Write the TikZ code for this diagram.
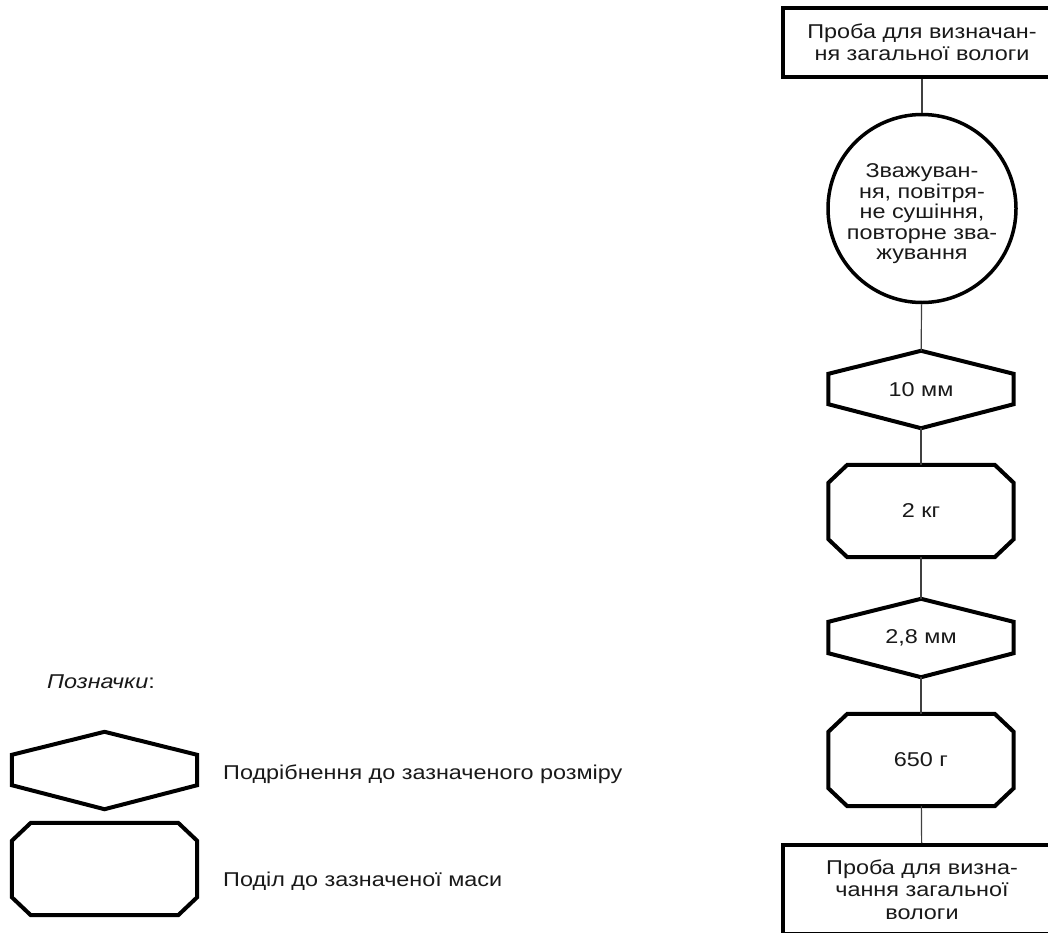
\documentclass[tikz,border=0pt]{standalone}
\usepackage{fontspec}
\setmainfont{Liberation Sans}[FakeStretch=1.17]
\usetikzlibrary{calc}
\tikzset{
  outline/.style={line width=4pt, line join=miter, draw=black},
  conn/.style={line width=1.2pt, draw=black!75},
  txt/.style={font=\fontsize{20}{22.5}\selectfont, align=center, inner sep=0pt, text=black!90},
  boxnode/.style={txt, draw=black, line width=4pt, rectangle, minimum width=278, minimum height=#1},
  shapebox/.style={txt, rectangle, minimum width=185},
  legtext/.style={font=\fontsize{20}{22.5}\selectfont, inner sep=0pt, anchor=base west, text=black!90},
}
\newcommand\hexpath[1]{%
  \draw[outline] (#1.north) -- ([yshift=-23]#1.north east) -- ([yshift=24]#1.south east)
    -- (#1.south) -- ([yshift=24]#1.south west) -- ([yshift=-23]#1.north west) -- cycle;}
\newcommand\octpath[1]{%
  \draw[outline] ([xshift=19]#1.north west) -- ([xshift=-19]#1.north east)
    -- ([yshift=-18]#1.north east) -- ([yshift=18]#1.south east)
    -- ([xshift=-19]#1.south east) -- ([xshift=19]#1.south west)
    -- ([yshift=18]#1.south west) -- ([yshift=-18]#1.north west) -- cycle;}
\begin{document}
\begin{tikzpicture}[x=1pt, y=-1pt]
\useasboundingbox (0,0) rectangle (1048,932);
% main column
\node[boxnode=69] (top) at (922,42.5) {Проба для визначан-\\ня загальної вологи};
\node[txt, draw=black, line width=3.5pt, circle, minimum size=188, font=\fontsize{20}{20.5}\selectfont] (c) at (922,208.5)
  {\rule{0pt}{25pt}Зважуван-\\ня, повітря-\\не сушіння,\\повторне зва-\\жування};
\node[shapebox, minimum height=77] (h1) at (921,389.5) {10 мм};
\node[shapebox, minimum height=92] (o1) at (921,511) {2 кг};
\node[shapebox, minimum height=78] (h2) at (921,638) {2,8 мм};
\node[shapebox, minimum height=92] (o2) at (921,760) {650 г};
\node[boxnode=89] (bot) at (922,889.5) {Проба для визна-\\чання загальної\\вологи};
\hexpath{h1}
\hexpath{h2}
\octpath{o1}
\octpath{o2}
\draw[conn] (top) -- (c);
\draw[conn] (c) -- (h1);
\draw[conn] (h1) -- (o1);
\draw[conn] (o1) -- (h2);
\draw[conn] (h2) -- (o2);
\draw[conn] (o2) -- (bot);
% legend
\node[legtext] (leg) at (47,688) {\textit{Позначки}:};
\node[shapebox, minimum height=77] (lh) at (104.5,770.5) {};
\node[shapebox, minimum height=92] (lo) at (104.5,869) {};
\hexpath{lh}
\octpath{lo}
\node[legtext] (l1) at (223,779) {Подрібнення до зазначеного розміру};
\node[legtext] (l2) at (223,886) {Поділ до зазначеної маси};
\end{tikzpicture}
\end{document}
